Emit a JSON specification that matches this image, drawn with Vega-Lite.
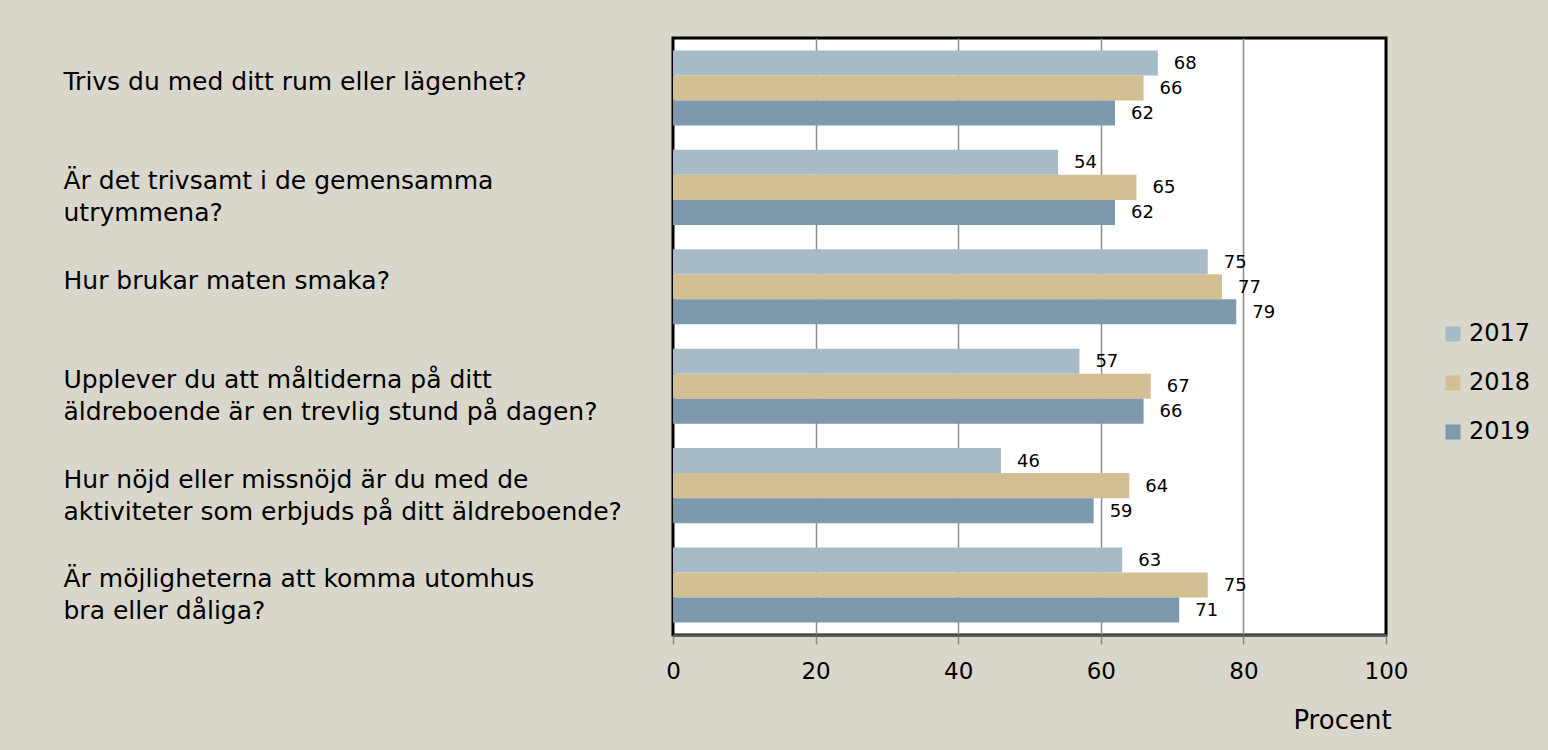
{
  "$schema": "https://vega.github.io/schema/vega-lite/v6.json",
  "width": 713,
  "height": 597,
  "autosize": {"type": "none"},
  "padding": {"left": 673, "top": 38, "right": 162, "bottom": 115},
  "background": "#d9d7cb",
  "config": {
    "font": "DejaVu Sans",
    "view": {"fill": "#ffffff", "stroke": "#000000", "strokeWidth": 3}
  },
  "data": {
    "values": [
      {"q": "Trivs du med ditt rum eller lägenhet?", "year": "2017", "value": 68},
      {"q": "Trivs du med ditt rum eller lägenhet?", "year": "2018", "value": 66},
      {"q": "Trivs du med ditt rum eller lägenhet?", "year": "2019", "value": 62},
      {"q": "Är det trivsamt i de gemensamma\nutrymmena?", "year": "2017", "value": 54},
      {"q": "Är det trivsamt i de gemensamma\nutrymmena?", "year": "2018", "value": 65},
      {"q": "Är det trivsamt i de gemensamma\nutrymmena?", "year": "2019", "value": 62},
      {"q": "Hur brukar maten smaka?", "year": "2017", "value": 75},
      {"q": "Hur brukar maten smaka?", "year": "2018", "value": 77},
      {"q": "Hur brukar maten smaka?", "year": "2019", "value": 79},
      {"q": "Upplever du att måltiderna på ditt\näldreboende är en trevlig stund på dagen?", "year": "2017", "value": 57},
      {"q": "Upplever du att måltiderna på ditt\näldreboende är en trevlig stund på dagen?", "year": "2018", "value": 67},
      {"q": "Upplever du att måltiderna på ditt\näldreboende är en trevlig stund på dagen?", "year": "2019", "value": 66},
      {"q": "Hur nöjd eller missnöjd är du med de\naktiviteter som erbjuds på ditt äldreboende?", "year": "2017", "value": 46},
      {"q": "Hur nöjd eller missnöjd är du med de\naktiviteter som erbjuds på ditt äldreboende?", "year": "2018", "value": 64},
      {"q": "Hur nöjd eller missnöjd är du med de\naktiviteter som erbjuds på ditt äldreboende?", "year": "2019", "value": 59},
      {"q": "Är möjligheterna att komma utomhus\nbra eller dåliga?", "year": "2017", "value": 63},
      {"q": "Är möjligheterna att komma utomhus\nbra eller dåliga?", "year": "2018", "value": 75},
      {"q": "Är möjligheterna att komma utomhus\nbra eller dåliga?", "year": "2019", "value": 71}
    ]
  },
  "encoding": {
    "y": {
      "field": "q",
      "type": "nominal",
      "sort": null,
      "scale": {"paddingInner": 0.245, "paddingOuter": 0.125},
      "axis": {
        "title": null,
        "domain": false,
        "ticks": false,
        "tickSize": 0,
        "grid": false,
        "labelAlign": "left",
        "labelBaseline": "middle",
        "labelPadding": 610,
        "labelLimit": 700,
        "labelFontSize": 25,
        "labelColor": "#000000",
        "labelLineHeight": 32,
        "labelOffset": -6,
        "labelExpr": "split(datum.label, '\\n')"
      }
    },
    "yOffset": {"field": "year", "type": "nominal", "sort": ["2017", "2018", "2019"]},
    "x": {
      "field": "value",
      "type": "quantitative",
      "scale": {"domain": [0, 100]},
      "axis": {
        "title": "Procent",
        "values": [0, 20, 40, 60, 80, 100],
        "grid": true,
        "gridColor": "#8c8c8c",
        "gridWidth": 1.5,
        "gridOpacity": {"condition": {"test": "datum.value === 0 || datum.value === 100", "value": 0}, "value": 1},
        "domainColor": "#5a5a5a",
        "domainWidth": 2.5,
        "tickColor": "#8c8c8c",
        "tickSize": 9,
        "tickWidth": 1.5,
        "labelFlush": false,
        "labelFontSize": 23,
        "labelColor": "#000000",
        "labelPadding": 16,
        "titleFontSize": 26,
        "titleFontWeight": "normal",
        "titleColor": "#000000",
        "titleX": 669,
        "titleY": 85,
        "titleAlign": "center",
        "titleBaseline": "middle"
      }
    }
  },
  "layer": [
    {
      "mark": {"type": "bar"},
      "encoding": {
        "color": {
          "field": "year",
          "type": "nominal",
          "scale": {"domain": ["2017", "2018", "2019"], "range": ["#a6bbc6", "#d3bf94", "#7d99ab"]},
          "legend": {
            "title": null,
            "orient": "none",
            "legendX": 768,
            "legendY": 284,
            "symbolType": "square",
            "symbolSize": 225,
            "symbolStrokeWidth": 0,
            "labelFontSize": 24,
            "labelColor": "#000000",
            "labelOffset": 4,
            "rowPadding": 25
          }
        }
      }
    },
    {
      "mark": {"type": "text", "align": "left", "baseline": "middle", "dx": 16, "dy": 1, "fontSize": 18, "color": "#000000"},
      "encoding": {"text": {"field": "value", "type": "quantitative"}}
    }
  ]
}
